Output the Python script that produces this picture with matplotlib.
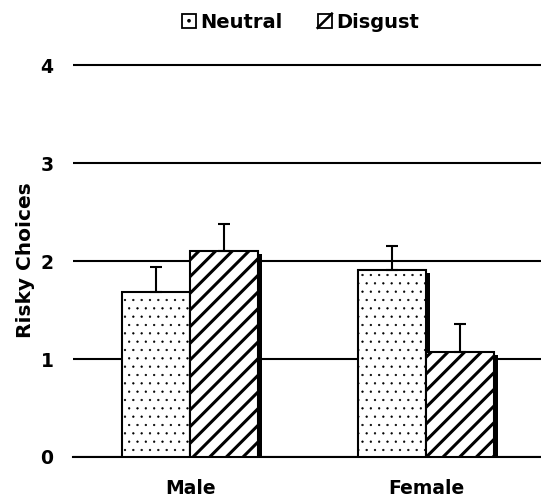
import matplotlib.pyplot as plt
from matplotlib.patches import Patch, Rectangle, Circle
from matplotlib.lines import Line2D
from matplotlib.legend_handler import HandlerBase
import numpy as np

groups = ["Male", "Female"]
neutral = [1.68, 1.91]
neutral_err = [0.26, 0.24]
disgust = [2.10, 1.07]
disgust_err = [0.28, 0.29]
yticks = [0, 1, 2, 3, 4]

plt.rcParams['font.family'] = 'DejaVu Sans'
plt.rcParams['font.weight'] = 'bold'

fig = plt.figure(figsize=(5.41, 4.97), dpi=100)
ax = fig.add_axes([0.135, 0.0805, 0.865, 0.7925])

x = np.arange(len(groups))
w = 0.288
sx = 0.017   # shadow offset
sy = 0.03

def hbars(xs, vals, hatch, hlw):
    # black shadow behind
    ax.bar(xs + sx, np.array(vals) - sy, w, color='black', zorder=2)
    bars = ax.bar(xs, vals, w, color='white', edgecolor='black', linewidth=1.5,
                  hatch=hatch, zorder=3)
    for b in bars:
        if hasattr(b, 'set_hatch_linewidth'):
            b.set_hatch_linewidth(hlw)
    return bars

plt.rcParams['hatch.linewidth'] = 0.4
hbars(x - w / 2, neutral, '..', 0.4)
plt.rcParams['hatch.linewidth'] = 2.2
hbars(x + w / 2, disgust, '//', 2.2)

ax.errorbar(x - w / 2, neutral, yerr=[np.zeros(2), neutral_err], fmt='none',
            ecolor='black', elinewidth=1.5, capsize=4, capthick=1.5, zorder=4)
ax.errorbar(x + w / 2, disgust, yerr=[np.zeros(2), disgust_err], fmt='none',
            ecolor='black', elinewidth=1.5, capsize=4, capthick=1.5, zorder=4)

ax.set_xlim(-0.496, 1.487)
ax.set_ylim(0, 4.02)
ax.set_yticks(yticks)
ax.set_xticks(x)
ax.set_xticklabels(groups, fontsize=13.5, fontweight='bold')
ax.tick_params(axis='both', length=0, labelsize=13.5)
ax.tick_params(axis='y', pad=14)
ax.tick_params(axis='x', pad=16)
ax.yaxis.grid(True, color='black', linewidth=1.5)
ax.set_axisbelow(True)
for s in ['top', 'right', 'left']:
    ax.spines[s].set_visible(False)
ax.spines['bottom'].set_linewidth(1.5)
ax.set_ylabel("Risky Choices", fontsize=14.5, fontweight='bold', labelpad=4)


# small square legend keys: one dot / one diagonal
class SquareKey(HandlerBase):
    def __init__(self, kind):
        super().__init__()
        self.kind = kind

    def create_artists(self, legend, orig_handle, xdescent, ydescent,
                       width, height, fontsize, trans):
        s = min(width, height)
        x0 = -xdescent + (width - s) / 2
        y0 = -ydescent + (height - s) / 2
        arts = [Rectangle((x0, y0), s, s, facecolor='white', edgecolor='black',
                          linewidth=1.3, transform=trans)]
        if self.kind == 'dot':
            arts.append(Circle((x0 + s / 2, y0 + s / 2), s * 0.08, color='black',
                               transform=trans))
        else:
            arts.append(Line2D([x0, x0 + s], [y0, y0 + s], color='black',
                               linewidth=1.8, transform=trans))
        return arts


h1 = Patch(label='Neutral')
h2 = Patch(label='Disgust')
fig.legend(handles=[h1, h2], loc='upper center', bbox_to_anchor=(0.555, 1.01), ncol=2,
           frameon=False, fontsize=14, handlelength=0.75, handleheight=0.75,
           handletextpad=0.2, columnspacing=1.8,
           handler_map={h1: SquareKey('dot'), h2: SquareKey('line')})

fig.savefig('out.png', dpi=100)
